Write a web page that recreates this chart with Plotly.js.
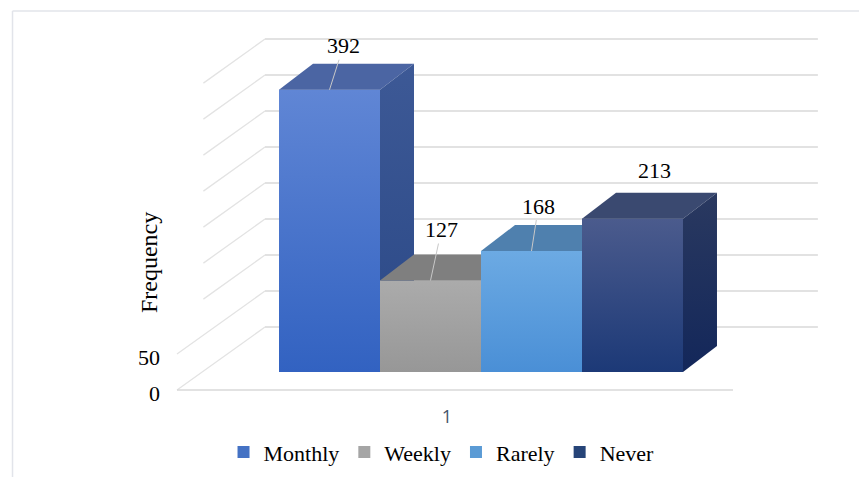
<!DOCTYPE html>
<html>
<head>
<meta charset="utf-8">
<script src="https://cdn.plot.ly/plotly-3.0.1.min.js"></script>
<style>
  html, body { margin: 0; padding: 0; background: #ffffff; }
  #chart { width: 859px; height: 477px; }
</style>
</head>
<body>
<div id="chart"></div>
<script>
// ---------------- data ----------------
const categoryLabels = ['1'];
const seriesNames = ['Monthly', 'Weekly', 'Rarely', 'Never'];
const seriesValues = [392, 127, 168, 213];
const gridValues = [0, 50, 100, 150, 200, 250, 300, 350, 400];
const yTickValues = [0, 50];

// ---------------- styles ----------------
const legendColors = ['#4472c4', '#a5a5a5', '#5b9bd5', '#264478'];
const frontTop    = ['#6086d5', '#ababab', '#6caae3', '#4b5b8d'];
const frontBottom = ['#3262c1', '#979797', '#4a8fd6', '#1c3977'];
const topColors   = ['#4b65a3', '#7f7f7f', '#4f80ae', '#3a4970'];
const sideTop     = ['#3d5996', '#707070', '#40709f', '#2a3960'];
const sideBottom  = ['#2a4886', '#5f5f5f', '#305f90', '#13275a'];
const serif = 'Liberation Serif, Times New Roman, serif';

// ---------------- 3D geometry (axis units) ----------------
const barWidth = 0.25;
const depthDx = 34 / 404;      // bar depth, x units
const depthDy = 26 / 0.72;     // bar depth, y units
const floorLeftX = 0.2475, floorRightX = 1.6238;
const floorFrontY = -25, floorBackY = 62.5;
const floorDx = 0.2178;
const wallRightX = 1.834;
const tickShift = -29;
const labelOffsets = [[14, -44], [11, -51], [7, -45], [22, -48]];
const labelArrows = [true, true, true, false];

const traces = [];
// legend-bearing bar traces (front faces)
seriesNames.forEach((name, i) => {
  traces.push({
    type: 'bar', name: name, x: [1], y: [seriesValues[i]],
    width: [barWidth], offset: [-0.5 + i * barWidth],
    marker: { color: legendColors[i], line: { width: 0 } },
    hoverinfo: 'name+y'
  });
});

// 3D faces
seriesValues.forEach((v, i) => {
  const x0 = 0.5 + i * barWidth, x1 = x0 + barWidth;
  traces.push({ // front
    type: 'scatter', mode: 'lines', showlegend: false, hoverinfo: 'skip',
    x: [x0, x1, x1, x0, x0], y: [0, 0, v, v, 0],
    fill: 'toself', line: { width: 0 },
    fillcolor: legendColors[i],
    fillgradient: { type: 'vertical', colorscale: [[0, frontBottom[i]], [1, frontTop[i]]] }
  });
  traces.push({ // top
    type: 'scatter', mode: 'lines', showlegend: false, hoverinfo: 'skip',
    x: [x0, x1, x1 + depthDx, x0 + depthDx, x0], y: [v, v, v + depthDy, v + depthDy, v],
    fill: 'toself', line: { width: 0 }, fillcolor: topColors[i]
  });
  traces.push({ // side
    type: 'scatter', mode: 'lines', showlegend: false, hoverinfo: 'skip',
    x: [x1, x1 + depthDx, x1 + depthDx, x1, x1], y: [0, depthDy, v + depthDy, v, 0],
    fill: 'toself', line: { width: 0 },
    fillcolor: sideTop[i],
    fillgradient: { type: 'vertical', colorscale: [[0, sideBottom[i]], [1, sideTop[i]]] }
  });
});

// gridlines: back wall + left wall diagonals + floor
const shapes = [];
gridValues.forEach(v => {
  shapes.push({ type: 'line', layer: 'below', xref: 'x', yref: 'y',
    x0: floorLeftX + floorDx, y0: v + floorBackY, x1: wallRightX, y1: v + floorBackY,
    line: { color: '#d9d9d9', width: 1.5 } });
  const t = v >= 100 ? 0.3 : 0;
  shapes.push({ type: 'line', layer: 'below', xref: 'x', yref: 'y',
    x0: floorLeftX + t * floorDx, y0: v + floorFrontY + t * (floorBackY - floorFrontY),
    x1: floorLeftX + floorDx, y1: v + floorBackY,
    line: { color: '#e3e3e3', width: 1.3 } });
});
shapes.push({ type: 'line', layer: 'below', xref: 'x', yref: 'y',
  x0: floorLeftX, y0: floorFrontY, x1: floorRightX, y1: floorFrontY,
  line: { color: '#d9d9d9', width: 1.5 } });
// outer frame (top and left)
shapes.push({ type: 'line', xref: 'paper', yref: 'paper', layer: 'below',
  x0: -0.2226, y0: 1.0237, x1: 1.02, y1: 1.0237, line: { color: '#e2e4ea', width: 1.5 } });
shapes.push({ type: 'line', xref: 'paper', yref: 'paper', layer: 'below',
  x0: -0.2226, y0: 1.0237, x1: -0.2226, y1: -0.3, line: { color: '#e2e4ea', width: 1.5 } });

// data labels
const annotations = seriesValues.map((v, i) => {
  const xc = 0.5 + i * barWidth + barWidth / 2;
  const a = {
    x: xc, y: v, xref: 'x', yref: 'y', text: String(v),
    font: { family: serif, size: 22, color: '#000000' }
  };
  if (labelArrows[i]) {
    Object.assign(a, { showarrow: true, arrowhead: 0, arrowwidth: 1, arrowcolor: '#c8c8c8',
      ax: labelOffsets[i][0], ay: labelOffsets[i][1], standoff: 0, startstandoff: 0 });
  } else {
    Object.assign(a, { showarrow: false, xshift: labelOffsets[i][0], yshift: -labelOffsets[i][1] });
  }
  return a;
});
annotations.push({
  text: 'Frequency', xref: 'paper', yref: 'paper', x: -0.0234, y: 0.363,
  xanchor: 'center', yanchor: 'middle',
  textangle: -90, showarrow: false,
  font: { family: serif, size: 24, color: '#000000' }
});

const layout = {
  width: 859, height: 477,
  margin: { l: 165, r: 9, t: 20, b: 77 },
  paper_bgcolor: '#ffffff', plot_bgcolor: '#ffffff',
  barmode: 'overlay',
  showlegend: true,
  legend: {
    orientation: 'h', xref: 'container', yref: 'container',
    x: 0.514, xanchor: 'center', y: 0.052, yanchor: 'middle',
    font: { family: serif, size: 22, color: '#000000' },
    itemwidth: 30, tracegroupgap: 0
  },
  xaxis: {
    range: [0.2178, 1.9134], showgrid: false, zeroline: false, showline: false,
    tickmode: 'array', tickvals: [1 - 34 / 404], ticktext: categoryLabels,
    tickfont: { family: 'Open Sans, Noto Sans, sans-serif', size: 18, color: '#44546a' },
    ticks: '', ticklabelstandoff: 4, fixedrange: true
  },
  yaxis: {
    range: [-38.89, 488.89], showgrid: false, zeroline: false, showline: false,
    tickmode: 'array', tickvals: yTickValues.map(v => v + tickShift),
    ticktext: yTickValues.map(String),
    tickfont: { family: serif, size: 22, color: '#000000' },
    ticks: '', ticklabelstandoff: 4, fixedrange: true
  },
  shapes: shapes,
  annotations: annotations
};

Plotly.newPlot('chart', traces, layout, { displayModeBar: false, staticPlot: true });
</script>
</body>
</html>
